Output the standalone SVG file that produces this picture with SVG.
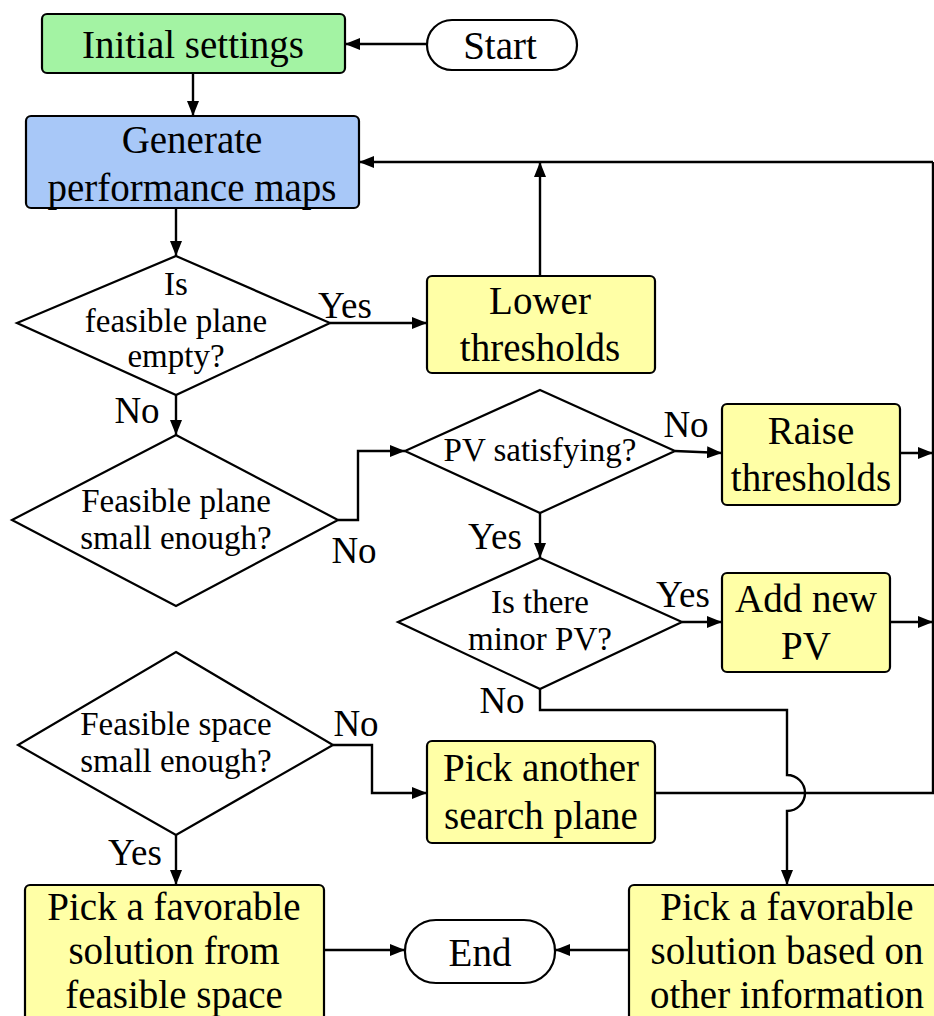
<svg xmlns="http://www.w3.org/2000/svg" width="934" height="1016" viewBox="0 0 934 1016" font-family="'Liberation Serif', 'DejaVu Serif', serif">
<style>
.box{stroke:#000;stroke-width:2.2}
.g{fill:#a3f3a3}.b{fill:#a8c8f8}.y{fill:#ffffa6}.w{fill:#fff}
text{font-family:'Liberation Serif','DejaVu Serif',serif}
.t{font-size:39px;text-anchor:middle;dominant-baseline:central;fill:#000}
.d{font-size:33px}
.l{font-size:37px}
.c{fill:none;stroke:#000;stroke-width:2.4}
</style>
<defs>
<marker id="ah" markerUnits="userSpaceOnUse" markerWidth="16" markerHeight="12" refX="15" refY="6" orient="auto">
<path d="M0,0 L15,6 L0,12 z" fill="#000"/>
</marker>
</defs>
<rect width="934" height="1016" fill="#fff"/>
<g id="connectors">
<line class="c" x1="427" y1="44" x2="345" y2="44" marker-end="url(#ah)"/>
<line class="c" x1="193" y1="73" x2="193" y2="116" marker-end="url(#ah)"/>
<line class="c" x1="176" y1="208" x2="176" y2="256" marker-end="url(#ah)"/>
<line class="c" x1="330" y1="323" x2="427" y2="323" marker-end="url(#ah)"/>
<line class="c" x1="540" y1="276" x2="540" y2="162" marker-end="url(#ah)"/>
<line class="c" x1="933" y1="162" x2="359" y2="162" marker-end="url(#ah)"/>
<line class="c" x1="176" y1="395" x2="176" y2="435" marker-end="url(#ah)"/>
<polyline class="c" points="338,520 358,520 358,451 405,451" marker-end="url(#ah)"/>
<line class="c" x1="675" y1="451" x2="722" y2="453" marker-end="url(#ah)"/>
<line class="c" x1="900" y1="453" x2="933" y2="453" marker-end="url(#ah)"/>
<line class="c" x1="540" y1="513" x2="540" y2="558" marker-end="url(#ah)"/>
<line class="c" x1="682" y1="622" x2="722" y2="622" marker-end="url(#ah)"/>
<line class="c" x1="890" y1="622" x2="933" y2="622" marker-end="url(#ah)"/>
<path class="c" d="M540,689 V710 H787 V775 A18,18 0 0 1 787,811 V885" marker-end="url(#ah)"/>
<polyline class="c" points="333,745 372,745 372,793 427,793" marker-end="url(#ah)"/>
<polyline class="c" points="655,793 933,793 933,162"/>
<line class="c" x1="176" y1="835" x2="176" y2="885" marker-end="url(#ah)"/>
<line class="c" x1="324" y1="950" x2="405" y2="950" marker-end="url(#ah)"/>
<line class="c" x1="629" y1="950" x2="555" y2="950" marker-end="url(#ah)"/>
</g>
<g id="labels">
<text class="t l" x="345" y="305">Yes</text>
<text class="t l" x="137" y="410">No</text>
<text class="t l" x="354" y="550">No</text>
<text class="t l" x="686" y="424">No</text>
<text class="t l" x="495" y="536">Yes</text>
<text class="t l" x="683" y="594">Yes</text>
<text class="t l" x="502" y="700">No</text>
<text class="t l" x="356" y="723">No</text>
<text class="t l" x="135" y="852">Yes</text>
</g>
<g id="start">
<rect class="box w" x="427" y="20" width="150" height="50" rx="25"/>
<text class="t" x="500" y="45">Start</text>
</g>
<g id="initial">
<rect class="box g" x="42" y="14" width="303" height="59" rx="5"/>
<text class="t" x="193" y="44">Initial settings</text>
</g>
<g id="generate">
<rect class="box b" x="26" y="116" width="333" height="92" rx="5"/>
<text class="t" x="192" y="139">Generate</text>
<text class="t" x="192" y="187">performance maps</text>
</g>
<g id="empty">
<polygon class="box w" points="176,256 330,323 176,395 17,323"/>
<text class="t d" x="176" y="284">Is</text>
<text class="t d" x="176" y="321">feasible plane</text>
<text class="t d" x="176" y="356">empty?</text>
</g>
<g id="lower">
<rect class="box y" x="427" y="276" width="228" height="97" rx="5"/>
<text class="t" x="540" y="300">Lower</text>
<text class="t" x="540" y="347">thresholds</text>
</g>
<g id="plane">
<polygon class="box w" points="176,435 338,520 176,606 12,520"/>
<text class="t d" x="176" y="501">Feasible plane</text>
<text class="t d" x="176" y="538">small enough?</text>
</g>
<g id="pvsat">
<polygon class="box w" points="540,390 675,451 540,513 405,451"/>
<text class="t d" x="540" y="450">PV satisfying?</text>
</g>
<g id="raise">
<rect class="box y" x="722" y="404" width="178" height="101" rx="5"/>
<text class="t" x="811" y="430">Raise</text>
<text class="t" x="811" y="477">thresholds</text>
</g>
<g id="minor">
<polygon class="box w" points="540,558 682,622 540,689 398,622"/>
<text class="t d" x="540" y="602">Is there</text>
<text class="t d" x="540" y="639">minor PV?</text>
</g>
<g id="addpv">
<rect class="box y" x="722" y="573" width="168" height="99" rx="5"/>
<text class="t" x="806" y="598">Add new</text>
<text class="t" x="806" y="645">PV</text>
</g>
<g id="space">
<polygon class="box w" points="176,652 333,745 176,835 18,745"/>
<text class="t d" x="176" y="724">Feasible space</text>
<text class="t d" x="176" y="761">small enough?</text>
</g>
<g id="another">
<rect class="box y" x="427" y="741" width="228" height="102" rx="5"/>
<text class="t" x="541" y="767">Pick another</text>
<text class="t" x="541" y="815">search plane</text>
</g>
<g id="pickfeasible">
<rect class="box y" x="25" y="885" width="299" height="150" rx="5"/>
<text class="t" x="174" y="906">Pick a favorable</text>
<text class="t" x="174" y="950">solution from</text>
<text class="t" x="174" y="994">feasible space</text>
</g>
<g id="end">
<rect class="box w" x="405" y="920" width="150" height="63" rx="31"/>
<text class="t" x="480" y="952">End</text>
</g>
<g id="pickother">
<rect class="box y" x="629" y="885" width="320" height="150" rx="5"/>
<text class="t" x="787" y="906">Pick a favorable</text>
<text class="t" x="787" y="950">solution based on</text>
<text class="t" x="787" y="994">other information</text>
</g>
</svg>
